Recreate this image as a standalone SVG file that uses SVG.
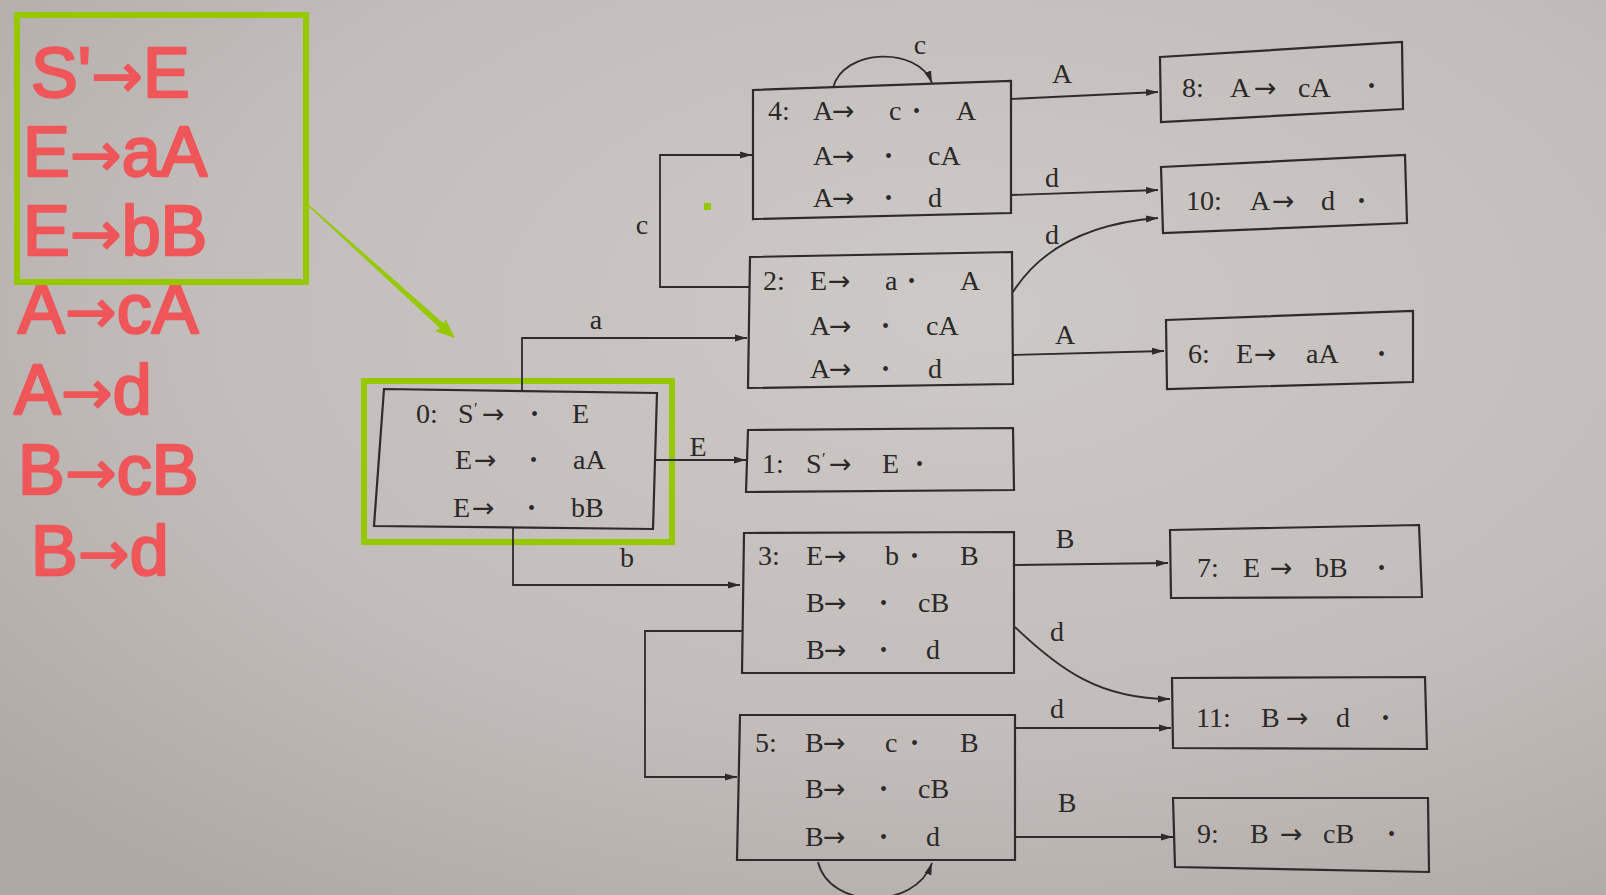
<svg xmlns="http://www.w3.org/2000/svg" width="1606" height="895" viewBox="0 0 1606 895">
<defs>
<radialGradient id="bg" cx="0.6" cy="0.35" r="0.8">
<stop offset="0" stop-color="#cdc9c6"/>
<stop offset="0.6" stop-color="#c2bdba"/>
<stop offset="1" stop-color="#aea9a5"/>
</radialGradient>
<marker id="ah" markerWidth="13" markerHeight="8" refX="12" refY="4" orient="auto" markerUnits="userSpaceOnUse">
<path d="M0,0.5 L12,4 L0,7.5 z" fill="#2e2b2a"/>
</marker>
<style>
.box{fill:none;stroke:#2e2b2a;stroke-width:2.2;stroke-linejoin:miter}
.t{font-family:"Liberation Serif","Times New Roman",serif;font-size:28px;fill:#2b2828}
.dot{font-size:20px}
.arr{font-family:"DejaVu Sans",sans-serif;font-size:27px}
.edge{fill:none;stroke:#2e2b2a;stroke-width:1.8}
.lbl{font-family:"Liberation Serif","Times New Roman",serif;font-size:28px;fill:#2b2828;text-anchor:middle}
.hw{font-family:"Liberation Sans",Arial,sans-serif;font-size:70px;fill:#ef5659;stroke:#ef5659;stroke-width:2.5;stroke-linejoin:round}
.ha{font-family:"DejaVu Sans",sans-serif;font-size:62px;stroke-width:1.5}
.gr{fill:none;stroke:#96c800;stroke-width:6}
</style>
</defs>
<rect x="0" y="0" width="1606" height="895" fill="url(#bg)"/>

<g id="grammar">
<text class="hw" x="31" y="97">S'<tspan class="ha">→</tspan>E</text>
<text class="hw" x="23" y="176">E<tspan class="ha">→</tspan>aA</text>
<text class="hw" x="23" y="255">E<tspan class="ha">→</tspan>bB</text>
<text class="hw" x="18" y="333">A<tspan class="ha">→</tspan>cA</text>
<text class="hw" x="14" y="414">A<tspan class="ha">→</tspan>d</text>
<text class="hw" x="18" y="494">B<tspan class="ha">→</tspan>cB</text>
<text class="hw" x="31" y="575">B<tspan class="ha">→</tspan>d</text>
</g>

<g id="highlight">
<rect class="gr" x="17" y="15" width="289" height="267"/>
<rect class="gr" x="364" y="381" width="308" height="161"/>
<polygon fill="#96c800" points="308.5,204.4 444,323.8 445.4,319.1 455,338 434.6,330.9 440,328.2 307.5,205.6"/>
<rect x="704" y="203" width="7" height="7" fill="#96c800"/>
</g>

<g id="connectors">
<path class="edge" d="M522,390 V338 H747" marker-end="url(#ah)"/>
<path class="edge" d="M513,527 V585 H740" marker-end="url(#ah)"/>
<path class="edge" d="M655,460 H746" marker-end="url(#ah)"/>
<path class="edge" d="M750,287 H660 V155 H752" marker-end="url(#ah)"/>
<path class="edge" d="M833,88 C843,48 918,46 932,83" marker-end="url(#ah)"/>
<path class="edge" d="M1011,99 L1158,92" marker-end="url(#ah)"/>
<path class="edge" d="M1011,195 L1158,190" marker-end="url(#ah)"/>
<path class="edge" d="M1013,292 Q1055,226 1158,218" marker-end="url(#ah)"/>
<path class="edge" d="M1013,355 L1164,351" marker-end="url(#ah)"/>
<path class="edge" d="M1015,565 L1168,563" marker-end="url(#ah)"/>
<path class="edge" d="M1015,627 C1060,670 1100,699 1170,699" marker-end="url(#ah)"/>
<path class="edge" d="M1015,728 L1171,728" marker-end="url(#ah)"/>
<path class="edge" d="M1015,837 L1173,837" marker-end="url(#ah)"/>
<path class="edge" d="M742,631 H645 V777 H737" marker-end="url(#ah)"/>
<path class="edge" d="M818,862 C830,910 915,910 932,863" marker-end="url(#ah)"/>
<text class="lbl" x="596" y="329">a</text>
<text class="lbl" x="627" y="567">b</text>
<text class="lbl" x="698" y="456">E</text>
<text class="lbl" x="642" y="234">c</text>
<text class="lbl" x="920" y="54">c</text>
<text class="lbl" x="1062" y="83">A</text>
<text class="lbl" x="1052" y="187">d</text>
<text class="lbl" x="1052" y="244">d</text>
<text class="lbl" x="1065" y="344">A</text>
<text class="lbl" x="1065" y="548">B</text>
<text class="lbl" x="1057" y="641">d</text>
<text class="lbl" x="1057" y="718">d</text>
<text class="lbl" x="1067" y="812">B</text>
</g>

<g id="node0">
<polygon class="box" points="384,389 657,393 653,529 374,526"/>
<text class="t" y="423"><tspan x="416">0:</tspan><tspan x="458">S</tspan><tspan x="474" font-size="16" dy="-9">′</tspan><tspan class="arr" x="482" dy="9">→</tspan><tspan class="dot" x="531" dy="-2">•</tspan><tspan x="572" dy="2">E</tspan></text>
<text class="t" y="469"><tspan x="455">E</tspan><tspan class="arr" x="474">→</tspan><tspan class="dot" x="530" dy="-2">•</tspan><tspan x="573" dy="2">aA</tspan></text>
<text class="t" y="517"><tspan x="453">E</tspan><tspan class="arr" x="472">→</tspan><tspan class="dot" x="528" dy="-2">•</tspan><tspan x="571" dy="2">bB</tspan></text>
</g>

<g id="node1">
<polygon class="box" points="748,430 1013,428 1014,490 746,492"/>
<text class="t" y="473"><tspan x="762">1:</tspan><tspan x="806">S</tspan><tspan x="822" font-size="16" dy="-9">′</tspan><tspan class="arr" x="829" dy="9">→</tspan><tspan x="882">E</tspan><tspan class="dot" x="916" dy="-2">•</tspan></text>
</g>

<g id="node2">
<polygon class="box" points="750,257 1012,252 1013,384 748,388"/>
<text class="t" y="290"><tspan x="763">2:</tspan><tspan x="810">E</tspan><tspan class="arr" x="828">→</tspan><tspan x="885">a</tspan><tspan class="dot" x="908" dy="-2">•</tspan><tspan x="960" dy="2">A</tspan></text>
<text class="t" y="335"><tspan x="810">A</tspan><tspan class="arr" x="829">→</tspan><tspan class="dot" x="882" dy="-2">•</tspan><tspan x="926" dy="2">cA</tspan></text>
<text class="t" y="378"><tspan x="810">A</tspan><tspan class="arr" x="829">→</tspan><tspan class="dot" x="882" dy="-2">•</tspan><tspan x="928" dy="2">d</tspan></text>
</g>

<g id="node3">
<polygon class="box" points="744,533 1014,532 1014,673 742,673"/>
<text class="t" y="565"><tspan x="758">3:</tspan><tspan x="806">E</tspan><tspan class="arr" x="824">→</tspan><tspan x="885">b</tspan><tspan class="dot" x="911" dy="-2">•</tspan><tspan x="960" dy="2">B</tspan></text>
<text class="t" y="612"><tspan x="806">B</tspan><tspan class="arr" x="824">→</tspan><tspan class="dot" x="880" dy="-2">•</tspan><tspan x="918" dy="2">cB</tspan></text>
<text class="t" y="659"><tspan x="806">B</tspan><tspan class="arr" x="824">→</tspan><tspan class="dot" x="880" dy="-2">•</tspan><tspan x="926" dy="2">d</tspan></text>
</g>

<g id="node4">
<polygon class="box" points="753,90 1011,81 1011,213 753,219"/>
<text class="t" y="120"><tspan x="768">4:</tspan><tspan x="813">A</tspan><tspan class="arr" x="832">→</tspan><tspan x="889">c</tspan><tspan class="dot" x="913" dy="-2">•</tspan><tspan x="956" dy="2">A</tspan></text>
<text class="t" y="165"><tspan x="813">A</tspan><tspan class="arr" x="832">→</tspan><tspan class="dot" x="885" dy="-2">•</tspan><tspan x="928" dy="2">cA</tspan></text>
<text class="t" y="207"><tspan x="813">A</tspan><tspan class="arr" x="832">→</tspan><tspan class="dot" x="885" dy="-2">•</tspan><tspan x="928" dy="2">d</tspan></text>
</g>

<g id="node5">
<polygon class="box" points="740,715 1015,715 1015,860 737,860"/>
<text class="t" y="752"><tspan x="755">5:</tspan><tspan x="805">B</tspan><tspan class="arr" x="823">→</tspan><tspan x="885">c</tspan><tspan class="dot" x="911" dy="-2">•</tspan><tspan x="960" dy="2">B</tspan></text>
<text class="t" y="798"><tspan x="805">B</tspan><tspan class="arr" x="823">→</tspan><tspan class="dot" x="880" dy="-2">•</tspan><tspan x="918" dy="2">cB</tspan></text>
<text class="t" y="846"><tspan x="805">B</tspan><tspan class="arr" x="823">→</tspan><tspan class="dot" x="880" dy="-2">•</tspan><tspan x="926" dy="2">d</tspan></text>
</g>

<g id="node6">
<polygon class="box" points="1166,320 1413,311 1413,382 1167,389"/>
<text class="t" y="363"><tspan x="1188">6:</tspan><tspan x="1236">E</tspan><tspan class="arr" x="1254">→</tspan><tspan x="1306">aA</tspan><tspan class="dot" x="1378" dy="-2">•</tspan></text>
</g>

<g id="node7">
<polygon class="box" points="1170,530 1419,525 1422,597 1171,598"/>
<text class="t" y="577"><tspan x="1197">7:</tspan><tspan x="1243">E</tspan><tspan class="arr" x="1270">→</tspan><tspan x="1315">bB</tspan><tspan class="dot" x="1378" dy="-2">•</tspan></text>
</g>

<g id="node8">
<polygon class="box" points="1160,57 1402,42 1403,109 1161,122"/>
<text class="t" y="97"><tspan x="1182">8:</tspan><tspan x="1230">A</tspan><tspan class="arr" x="1254">→</tspan><tspan x="1298">cA</tspan><tspan class="dot" x="1368" dy="-4">•</tspan></text>
</g>

<g id="node9">
<polygon class="box" points="1173,798 1428,798 1429,872 1175,867"/>
<text class="t" y="843"><tspan x="1197">9:</tspan><tspan x="1250">B</tspan><tspan class="arr" x="1280">→</tspan><tspan x="1323">cB</tspan><tspan class="dot" x="1388" dy="-2">•</tspan></text>
</g>

<g id="node10">
<polygon class="box" points="1161,167 1405,155 1407,223 1163,233"/>
<text class="t" y="210"><tspan x="1186">10:</tspan><tspan x="1250">A</tspan><tspan class="arr" x="1272">→</tspan><tspan x="1321">d</tspan><tspan class="dot" x="1358" dy="-2">•</tspan></text>
</g>

<g id="node11">
<polygon class="box" points="1172,678 1425,677 1427,749 1173,748"/>
<text class="t" y="727"><tspan x="1196">11:</tspan><tspan x="1261">B</tspan><tspan class="arr" x="1286">→</tspan><tspan x="1336">d</tspan><tspan class="dot" x="1382" dy="-2">•</tspan></text>
</g>
</svg>
